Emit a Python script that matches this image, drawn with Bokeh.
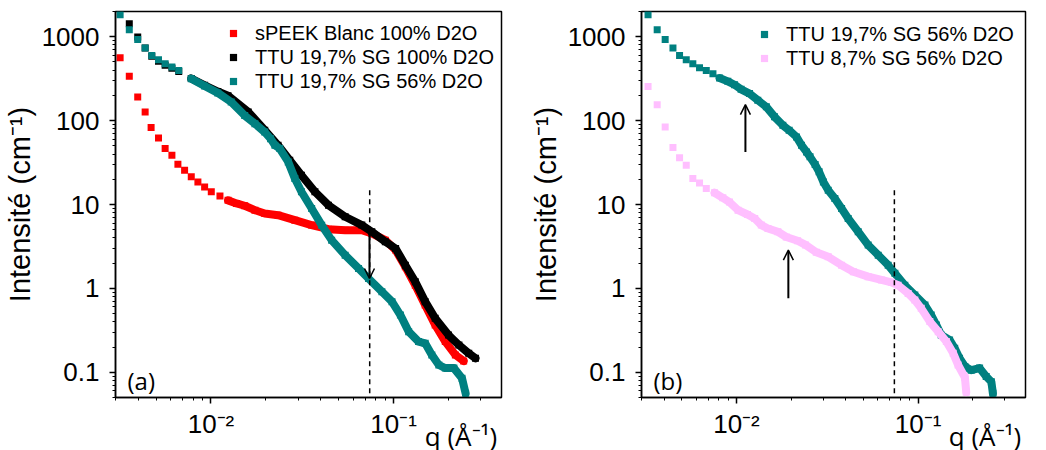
from bokeh.plotting import figure
from bokeh.models import (Range1d, CustomJSTickFormatter, Label, Arrow, OpenHead,
                          Legend, LegendItem)
from bokeh.layouts import row
from bokeh.embed import file_html
from bokeh.resources import INLINE

# ---------------- data: panel (a) ----------------
q_a_red = [0.00318, 0.00357, 0.00397, 0.00436, 0.00470, 0.00516, 0.00561, 0.00611, 0.00659, 0.00717,
           0.0078, 0.00848, 0.00923, 0.01004, 0.0112, 0.0124, 0.0138, 0.0153, 0.0174, 0.0197,
           0.0233, 0.0288, 0.0355, 0.0440, 0.0543, 0.0670, 0.0760, 0.0901, 0.1026, 0.116,
           0.1315, 0.149, 0.169, 0.192, 0.218, 0.242]
I_a_red = [562, 337, 191, 127, 82.6, 62.2, 46.4, 38.7, 30.2, 25.6,
           21.4, 18.6, 16.2, 14.2, 12.6, 11.2, 10.3, 9.66, 8.56, 7.81,
           7.46, 6.50, 5.68, 5.08, 4.94, 4.94, 4.52, 3.76, 2.86, 1.81,
           1.09, 0.632, 0.366, 0.232, 0.161, 0.136]

q_a_black = [0.00357, 0.00397, 0.00436, 0.00474, 0.00516, 0.00561, 0.00611, 0.00666, 0.0078, 0.00923,
             0.0109, 0.0124, 0.0160, 0.0197, 0.0233, 0.0270, 0.0313, 0.0371, 0.0440, 0.0543,
             0.0670, 0.0760, 0.0901, 0.1026, 0.116, 0.1315, 0.149, 0.169, 0.200, 0.228,
             0.258, 0.281]
I_a_black = [1429, 992, 733, 585, 510, 458, 420, 386, 318, 264,
             222, 198, 127, 76.7, 50.8, 33.7, 22.3, 14.2, 9.82, 7.14,
             5.68, 4.73, 3.60, 2.99, 1.89, 1.20, 0.695, 0.44, 0.278, 0.211,
             0.168, 0.147]

q_a_teal = [0.00318, 0.00357, 0.00397, 0.00436, 0.00474, 0.00516, 0.00561, 0.00611, 0.00666, 0.0078,
            0.00923, 0.0109, 0.0129, 0.0153, 0.0174, 0.0197, 0.0212, 0.0224, 0.0238, 0.0265,
            0.0288, 0.0313, 0.0356, 0.0404, 0.0458, 0.0543, 0.0643, 0.0729, 0.0863, 0.098,
            0.109, 0.121, 0.137, 0.149, 0.162, 0.177, 0.192, 0.214, 0.237, 0.248]
I_a_teal = [1828, 1211, 929, 733, 599, 532, 477, 436, 397, 316,
            259, 214, 167, 115, 92, 73, 61, 51, 46.4, 32.2,
            20.4, 14.2, 8.96, 5.67, 3.76, 2.49, 1.73, 1.31, 0.914, 0.695,
            0.481, 0.305, 0.232, 0.221, 0.161, 0.122, 0.112, 0.112, 0.085, 0.056]

# ---------------- data: panel (b) ----------------
q_b_teal = [0.00326, 0.00366, 0.00405, 0.00447, 0.00486, 0.00529, 0.00575, 0.00626, 0.00682, 0.00742,
            0.00807, 0.00896, 0.00976, 0.0106, 0.0118, 0.0131, 0.0146, 0.0162, 0.0180, 0.0195,
            0.0214, 0.0228, 0.0243, 0.0254, 0.0271, 0.0285, 0.0301, 0.0320, 0.0348, 0.0379,
            0.0412, 0.0468, 0.0531, 0.0603, 0.0684, 0.0745, 0.0845, 0.0959, 0.109, 0.118,
            0.126, 0.134, 0.149, 0.159, 0.169, 0.181, 0.196, 0.218, 0.237, 0.253, 0.258]
I_b_teal = [1828, 1211, 929, 733, 599, 532, 477, 428, 397, 363,
            322, 294, 268, 236, 210, 175, 146, 111, 88, 76.7,
            64, 50.8, 42.4, 37, 29.9, 24.5, 18.6, 14.8, 11.8, 8.96,
            6.81, 4.73, 3.28, 2.49, 1.89, 1.51, 1.09, 0.832, 0.632, 0.481,
            0.366, 0.278, 0.243, 0.193, 0.147, 0.117, 0.106, 0.112, 0.089, 0.077, 0.056]

q_b_pink = [0.00326, 0.00366, 0.00405, 0.00447, 0.00486, 0.00529, 0.00575, 0.00626, 0.00682, 0.00757,
            0.00841, 0.00915, 0.0102, 0.0115, 0.0126, 0.0137, 0.0149, 0.0169, 0.0188, 0.0217,
            0.0240, 0.0275, 0.0320, 0.0379, 0.0440, 0.0531, 0.0628, 0.0713, 0.0776, 0.0881,
            0.0959, 0.104, 0.116, 0.129, 0.143, 0.156, 0.166, 0.181, 0.184]
I_b_pink = [256, 155, 84, 47.7, 36, 29.4, 20.4, 18.1, 15.5, 13.8,
            12.0, 10.7, 8.56, 7.6, 6.81, 5.68, 5.18, 4.73, 4.1, 3.7,
            3.3, 2.7, 2.38, 1.89, 1.58, 1.38, 1.26, 1.18, 1.09, 0.871,
            0.726, 0.578, 0.402, 0.305, 0.232, 0.168, 0.122, 0.0865, 0.0578]

labels_a = ["sPEEK Blanc 100% D2O", "TTU 19,7% SG 100% D2O", "TTU 19,7% SG 56% D2O"]
labels_b = ["TTU 19,7% SG 56% D2O", "TTU 8,7% SG 56% D2O"]

q_cut = 0.074
dash_top = 14.8
arrow_a = (0.0738, 4.9, 1.31)
arrows_b = [(0.0112, 42.4, 155), (0.0193, 0.76, 2.86)]

RED, BLACK, TEAL, PINK = "#FF0000", "#000000", "#008080", "#FFBFFF"
ARIAL = "Liberation Sans"
CALIBRI = "Open Sans"

X_FMT = """
const e = Math.round(Math.log10(tick));
const m = {'-': '\\u207b', '0': '\\u2070', '1': '\\u00b9', '2': '\\u00b2', '3': '\\u00b3'};
return '10' + String(e).split('').map(c => m[c]).join('');
"""
Y_FMT = "return tick < 1 ? tick.toFixed(1) : tick.toFixed(0);"

# the axis label is centred on the axis end; non-breaking padding keeps the
# visible text left of that point, as in the reference
X_LABEL = "q (\u00c5\u207b\u00b9)" + "\u00a0" * 12


def make_fig(border_left, border_right, frame_w):
    p = figure(x_axis_type="log", y_axis_type="log",
               x_range=Range1d(0.003, 0.39), y_range=Range1d(0.05, 2000),
               frame_width=frame_w, frame_height=386,
               min_border_left=border_left, min_border_right=border_right,
               min_border_top=11, min_border_bottom=45,
               output_backend="svg", toolbar_location=None)
    p.grid.visible = False
    p.outline_line_color = "black"
    p.outline_line_width = 1.5
    p.outline_line_alpha = 1.0
    p.background_fill_color = "white"
    p.border_fill_color = "white"
    for ax in (p.xaxis[0], p.yaxis[0]):
        ax.axis_line_color = "black"
        ax.axis_line_width = 1.5
        ax.major_tick_in = 0
        ax.major_tick_out = 6
        ax.minor_tick_in = 0
        ax.minor_tick_out = 3
        ax.major_tick_line_width = 1.5
        ax.minor_tick_line_width = 1
        ax.major_tick_line_color = "black"
        ax.minor_tick_line_color = "black"
        ax.major_label_text_font = ARIAL
        ax.major_label_text_font_size = "26px"
        ax.major_label_text_color = "black"
    p.xaxis[0].formatter = CustomJSTickFormatter(code=X_FMT)
    p.yaxis[0].formatter = CustomJSTickFormatter(code=Y_FMT)
    p.xaxis[0].major_label_standoff = 5
    p.yaxis[0].major_label_standoff = 10
    p.yaxis[0].axis_label = "Intensit\u00e9 (cm\u207b\u00b9)"
    p.yaxis[0].axis_label_text_font = ARIAL
    p.yaxis[0].axis_label_text_font_size = "29px"
    p.yaxis[0].axis_label_text_font_style = "normal"
    p.yaxis[0].axis_label_text_color = "black"
    p.yaxis[0].axis_label_standoff = 3
    xa = p.xaxis[0]
    xa.axis_label = X_LABEL
    xa.axis_label_text_font = CALIBRI
    xa.axis_label_text_font_size = "26px"
    xa.axis_label_text_font_style = "normal"
    xa.axis_label_text_color = "black"
    xa.axis_label_standoff = -24
    xa.axis_label_align = "end"
    return p


def band(p, q, I, qmin, color, width=8):
    k = next(i for i, v in enumerate(q) if v >= qmin)
    p.line(q[k:], I[k:], line_width=width, line_color=color, line_join="round", line_cap="round")


def series(p, q, I, color):
    return p.scatter(q, I, marker="square", size=7, fill_color=color, line_color=color, line_width=0)


def decorate(p, letter):
    p.segment(x0=[q_cut], y0=[dash_top], x1=[q_cut], y1=[0.04],
              line_color="black", line_width=1.5, line_dash="5 4")
    p.add_layout(Label(x=12, y=17, x_units="screen", y_units="screen", text=letter,
                       text_font=CALIBRI, text_font_size="24px", text_color="black",
                       text_baseline="alphabetic"))


def legend(p, items, loc):
    lg = Legend(items=items, location=loc, padding=0, margin=0, spacing=-3,
                glyph_width=18, glyph_height=18, label_height=24, label_standoff=13,
                label_text_font=ARIAL, label_text_font_size="20px", label_text_color="black",
                border_line_alpha=0, background_fill_alpha=0)
    p.add_layout(lg)


# ---------------- panel (a) ----------------
pa = make_fig(115, 16, 386)
band(pa, q_a_red, I_a_red, 0.012, RED)
r_red = series(pa, q_a_red, I_a_red, RED)
band(pa, q_a_black, I_a_black, 0.0075, BLACK)
r_black = series(pa, q_a_black, I_a_black, BLACK)
band(pa, q_a_teal, I_a_teal, 0.007, TEAL)
r_teal = series(pa, q_a_teal, I_a_teal, TEAL)
decorate(pa, "(a)")
pa.add_layout(Arrow(end=OpenHead(size=10, line_width=1.5, line_color="black"),
                    x_start=arrow_a[0], y_start=arrow_a[1], x_end=arrow_a[0], y_end=arrow_a[2],
                    line_width=2, line_color="black"))
legend(pa, [LegendItem(label=labels_a[0], renderers=[r_red]),
            LegendItem(label=labels_a[1], renderers=[r_black]),
            LegendItem(label=labels_a[2], renderers=[r_teal])], (109, 304))

# ---------------- panel (b) ----------------
pb = make_fig(124, 10, 384)
band(pb, q_b_teal, I_b_teal, 0.008, TEAL)
r_bt = series(pb, q_b_teal, I_b_teal, TEAL)
band(pb, q_b_pink, I_b_pink, 0.0075, PINK)
r_bp = series(pb, q_b_pink, I_b_pink, PINK)
decorate(pb, "(b)")
for xq, y0, y1 in arrows_b:
    pb.add_layout(Arrow(end=OpenHead(size=10, line_width=1.5, line_color="black"),
                        x_start=xq, y_start=y0, x_end=xq, y_end=y1,
                        line_width=2, line_color="black"))
legend(pb, [LegendItem(label=labels_b[0], renderers=[r_bt]),
            LegendItem(label=labels_b[1], renderers=[r_bp])], (114, 327))

layout = row(pa, pb)
open("out.html", "w").write(file_html(layout, INLINE))
